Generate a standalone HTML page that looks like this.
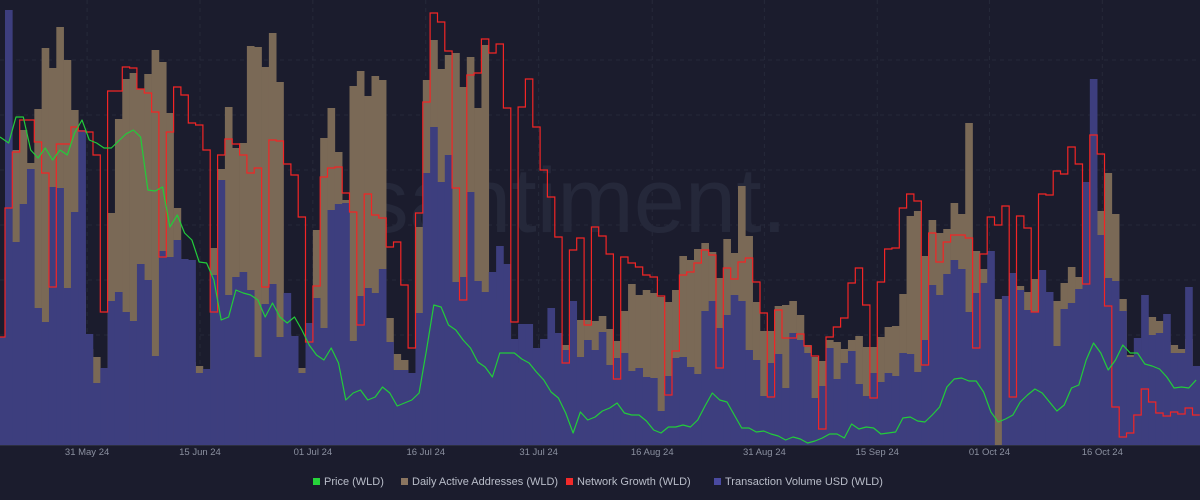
<!DOCTYPE html>
<html><head><meta charset="utf-8">
<style>
html,body{margin:0;padding:0;background:#1b1c2d;}
body{width:1200px;height:500px;overflow:hidden;font-family:"Liberation Sans",sans-serif;}
svg{display:block}
</style></head>
<body>
<svg id="chart" width="1200" height="500" viewBox="0 0 1200 500" xmlns="http://www.w3.org/2000/svg">
  <rect x="0" y="0" width="1200" height="500" fill="#1b1c2d"/>
  <g id="grid"></g>
  <text x="575" y="232" text-anchor="middle" font-size="92" fill="#25283a" font-family="Liberation Sans, sans-serif">santiment.</text>
  <g id="daa"></g>
  <g id="vol"></g>
  <g id="lines"></g>
  <line x1="0" y1="445.5" x2="1200" y2="445.5" stroke="#2c2f40" stroke-width="1"/>
  <g id="xticks"></g>
  <g id="legend">
    <g><rect x="313" y="478" width="7" height="7" fill="#26d33a"/><text x="324" y="485" font-size="11" fill="#b9bdc9">Price (WLD)</text></g>
    <g><rect x="401" y="478" width="7" height="7" fill="#8b7560"/><text x="412" y="485" font-size="11" fill="#b9bdc9">Daily Active Addresses (WLD)</text></g>
    <g><rect x="566" y="478" width="7" height="7" fill="#f22a2a"/><text x="577" y="485" font-size="11" fill="#b9bdc9">Network Growth (WLD)</text></g>
    <g><rect x="714" y="478" width="7" height="7" fill="#4a4aa0"/><text x="725" y="485" font-size="11" fill="#b9bdc9">Transaction Volume USD (WLD)</text></g>
  </g>
</svg>
<script>
const daaValues = [53,202,295,315,282,336,397,377,418,385,335,153,96,88,58,232,326,366,372,356,371,395,383,332,237,102,83,79,55,197,276,338,297,302,399,398,378,412,363,110,98,
77,48,215,307,337,293,245,359,374,349,369,365,127,91,85,63,218,365,405,376,390,392,358,388,337,400,172,146,127,82,82,62,58,95,97,95,100,112,125,125,124,
129,116,104,134,161,150,155,152,148,143,155,189,185,196,202,193,167,206,192,259,209,143,114,114,139,140,144,130,100,88,84,105,103,96,105,109,98,98,108,118,119,
151,229,234,189,225,212,216,242,231,322,194,176,145,146,142,140,159,153,166,152,144,144,162,178,168,209,257,234,272,231,146,90,69,93,128,124,103,100,96,106,72];
const volumeValues = [108,435,203,241,276,137,123,258,257,157,233,315,111,62,77,144,153,133,124,181,165,89,194,188,205,186,185,72,76,170,265,150,168,173,155,88,141,161,108,152,109,
72,122,147,117,235,241,242,104,149,157,152,176,103,75,75,72,132,272,318,263,290,163,168,253,164,153,173,199,181,106,121,121,97,106,137,112,95,144,88,105,95,
113,80,87,92,74,77,68,67,34,69,87,88,78,71,134,144,117,130,150,144,95,85,49,82,91,57,112,105,92,47,59,97,66,82,94,61,49,72,63,72,69,
92,91,73,105,160,150,171,185,176,133,152,162,194,0,149,172,155,135,133,175,153,99,136,142,156,263,366,210,167,164,134,88,107,150,110,112,131,92,92,158,79];
const growthValues = [108,237,293,325,325,303,272,158,301,301,318,314,313,290,133,354,354,378,377,356,352,333,188,313,358,350,322,320,295,133,290,306,301,290,272,277,158,305,304,281,270,
228,103,159,268,277,278,252,233,120,251,230,227,198,203,160,97,232,343,432,423,394,257,145,370,372,406,392,401,337,123,338,366,318,275,248,208,82,195,207,120,218,
209,191,66,188,182,178,170,168,149,50,94,170,173,182,195,190,77,177,166,183,187,163,132,48,135,107,107,111,99,89,16,108,118,127,162,177,140,47,163,196,197,
237,251,244,80,212,183,203,210,210,207,97,191,228,220,239,48,229,217,133,251,250,274,271,298,281,161,310,291,139,38,8,12,30,56,43,32,29,33,31,37,30];
const priceValues = [4.08,4.02,4.28,4.28,3.95,3.87,3.97,3.85,3.95,3.90,4.12,4.25,4.05,4.02,3.97,3.97,4.04,4.11,4.15,4.08,3.55,3.54,3.58,3.18,3.30,3.12,3.05,2.83,2.82,2.65,2.25,2.28,2.55,2.52,2.50,2.45,2.28,2.42,2.28,2.22,2.28,
2.15,2.00,1.90,1.85,1.97,1.82,1.45,1.52,1.55,1.45,1.48,1.58,1.52,1.39,1.42,1.45,1.52,1.95,2.40,2.38,2.20,2.15,2.05,1.97,1.83,1.78,1.68,1.92,1.92,1.92,1.86,1.82,1.73,1.65,1.53,1.47,1.32,1.12,1.33,1.25,1.28,
1.34,1.37,1.42,1.32,1.30,1.30,1.24,1.15,1.12,1.18,1.18,1.20,1.18,1.25,1.39,1.52,1.45,1.43,1.30,1.17,1.17,1.13,1.14,1.11,1.09,1.05,1.08,1.06,1.02,1.04,1.07,1.11,1.11,1.07,1.21,1.16,1.18,1.17,1.11,1.12,1.13,
1.27,1.28,1.24,1.23,1.30,1.38,1.58,1.66,1.67,1.64,1.64,1.53,1.33,1.23,1.26,1.30,1.43,1.50,1.56,1.52,1.43,1.34,1.40,1.57,1.60,1.85,2.02,1.92,1.75,1.85,2.00,1.92,1.92,1.81,1.79,1.76,1.68,1.57,1.58,1.57,1.65];
const tickLabels = ["31 May 24","15 Jun 24","01 Jul 24","16 Jul 24","31 Jul 24","16 Aug 24","31 Aug 24","15 Sep 24","01 Oct 24","16 Oct 24"];
const tickIndex = [11.7,27.1,42.5,57.9,73.3,88.8,104.1,119.5,134.8,150.2];

const NS="http://www.w3.org/2000/svg";
const BOTTOM=445, BW=7.33, X0=5;
function xLeft(i){ return i===0 ? 0 : X0+(i-1)*BW; }
function xRight(i){ return Math.min(1200, X0+i*BW); }
function xCenter(f){ return X0+(f-0.5)*BW; }
function yBar(v){ return BOTTOM - v/445*445; }
function yPrice(p){ return BOTTOM - (p-1)*100; }
function mk(tag, attrs){ const e=document.createElementNS(NS,tag); for(const k in attrs) e.setAttribute(k,attrs[k]); return e; }

const grid=document.getElementById('grid');
[60,115,170,225,280,335,390].forEach(y=>{
  const l=mk('line',{x1:0,x2:1200,y1:y,y2:y,stroke:'#262939','stroke-dasharray':'4 4','stroke-width':1});
  
  
  grid.appendChild(l);
});
tickIndex.forEach(t=>{
  const l=mk('line',{x1:xCenter(t),x2:xCenter(t),y1:0,y2:BOTTOM,stroke:'#262939','stroke-dasharray':'4 4','stroke-width':1});
  
  
  grid.appendChild(l);
});

const daa=document.getElementById('daa');
daaValues.forEach((v,i)=>{
  const r=mk('rect',{x:xLeft(i),y:yBar(v),width:xRight(i)-xLeft(i)+0.3,height:BOTTOM-yBar(v),fill:'#7a6956'});
  
  
  daa.appendChild(r);
});
const vol=document.getElementById('vol');
volumeValues.forEach((v,i)=>{
  const r=mk('rect',{x:xLeft(i),y:yBar(v),width:xRight(i)-xLeft(i)+0.3,height:BOTTOM-yBar(v),fill:'#3d3e7e'});
  
  
  vol.appendChild(r);
});

const lines=document.getElementById('lines');
let d='';
growthValues.forEach((v,i)=>{
  const y=yBar(v);
  d += (i===0?'M':'L')+xLeft(i).toFixed(1)+' '+y.toFixed(1)+' L'+xRight(i).toFixed(1)+' '+y.toFixed(1)+' ';
});
const g=mk('path',{d:d,fill:'none',stroke:'#f22525','stroke-width':1.2});


lines.appendChild(g);

let pd='';
priceValues.forEach((p,i)=>{
  const x = i===0 ? 0 : xCenter(i);
  pd += (i===0?'M':'L')+x.toFixed(1)+' '+yPrice(p).toFixed(1)+' ';
});
const pl=mk('path',{d:pd,fill:'none',stroke:'#22cc3a','stroke-width':1.2,'stroke-linejoin':'round'});


lines.appendChild(pl);

const xt=document.getElementById('xticks');
tickLabels.forEach((lab,k)=>{
  const t=mk('text',{x:xCenter(tickIndex[k]),y:455,'text-anchor':'middle','font-size':9.5,fill:'#8b90a0'});
  t.textContent=lab;
  
  
  xt.appendChild(t);
});
</script>
</body></html>
